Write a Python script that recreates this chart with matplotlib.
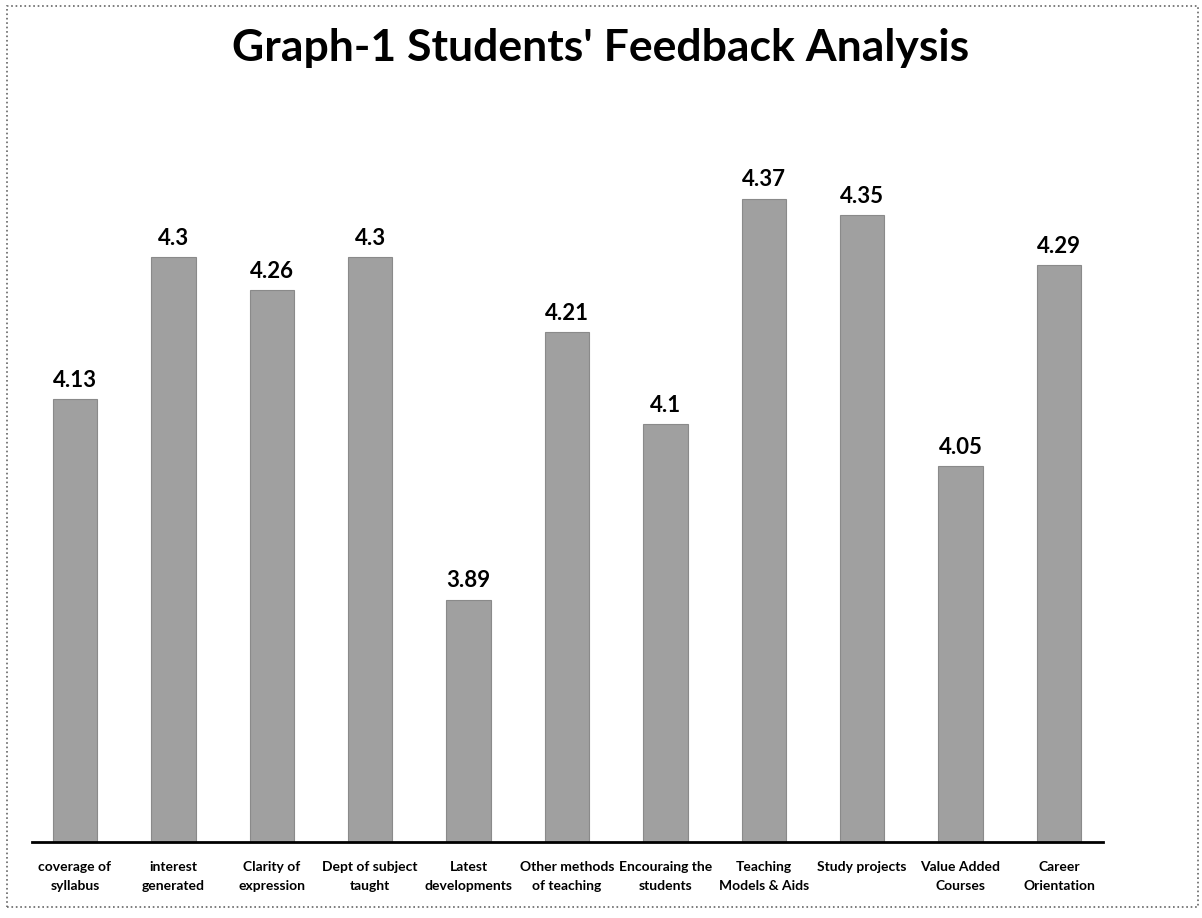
import matplotlib.pyplot as plt
from matplotlib.patches import Rectangle

categories = ['coverage of\nsyllabus', 'interest\ngenerated', 'Clarity of\nexpression',
              'Dept of subject\ntaught', 'Latest\ndevelopments', 'Other methods\nof teaching',
              'Encouraing the\nstudents', 'Teaching\nModels & Aids', 'Study projects',
              'Value Added\nCourses', 'Career\nOrientation']
scores = [4.13, 4.3, 4.26, 4.3, 3.89, 4.21, 4.1, 4.37, 4.35, 4.05, 4.29]
labels = ['4.13', '4.3', '4.26', '4.3', '3.89', '4.21', '4.1', '4.37', '4.35', '4.05', '4.29']

plt.rcParams['font.family'] = ['Lato', 'DejaVu Sans']

fig = plt.figure(figsize=(12.02, 9.18), dpi=100)
ax = fig.add_axes([0.0266, 0.083, 0.891, 0.819])

x = range(len(categories))
bars = ax.bar(x, scores, width=0.45, color='#a0a0a0', edgecolor='#8a8a8a', linewidth=0.8)
for b, t in zip(bars, labels):
    ax.text(b.get_x() + b.get_width() / 2, b.get_height() + 0.01, t,
            ha='center', va='bottom', fontsize=16, fontweight='bold')

ax.set_ylim(3.6, 4.5)
ax.set_xlim(-0.437, 10.447)
ax.set_xticks(list(x))
ax.set_xticklabels(categories, fontsize=10, fontweight='bold', linespacing=1.65)
ax.tick_params(axis='x', length=0, pad=14)
ax.set_yticks([])
for s in ['top', 'right', 'left']:
    ax.spines[s].set_visible(False)
ax.spines['bottom'].set_linewidth(2)

fig.text(0.5, 0.948, "Graph-1 Students' Feedback Analysis", ha='center', va='center',
         fontsize=32, fontweight='bold')

fig.patches.append(Rectangle((0.006, 0.012), 0.991, 0.982, transform=fig.transFigure,
                             fill=False, edgecolor='#666666', linewidth=1.2, linestyle=':'))

fig.savefig('out.png', dpi=100)
